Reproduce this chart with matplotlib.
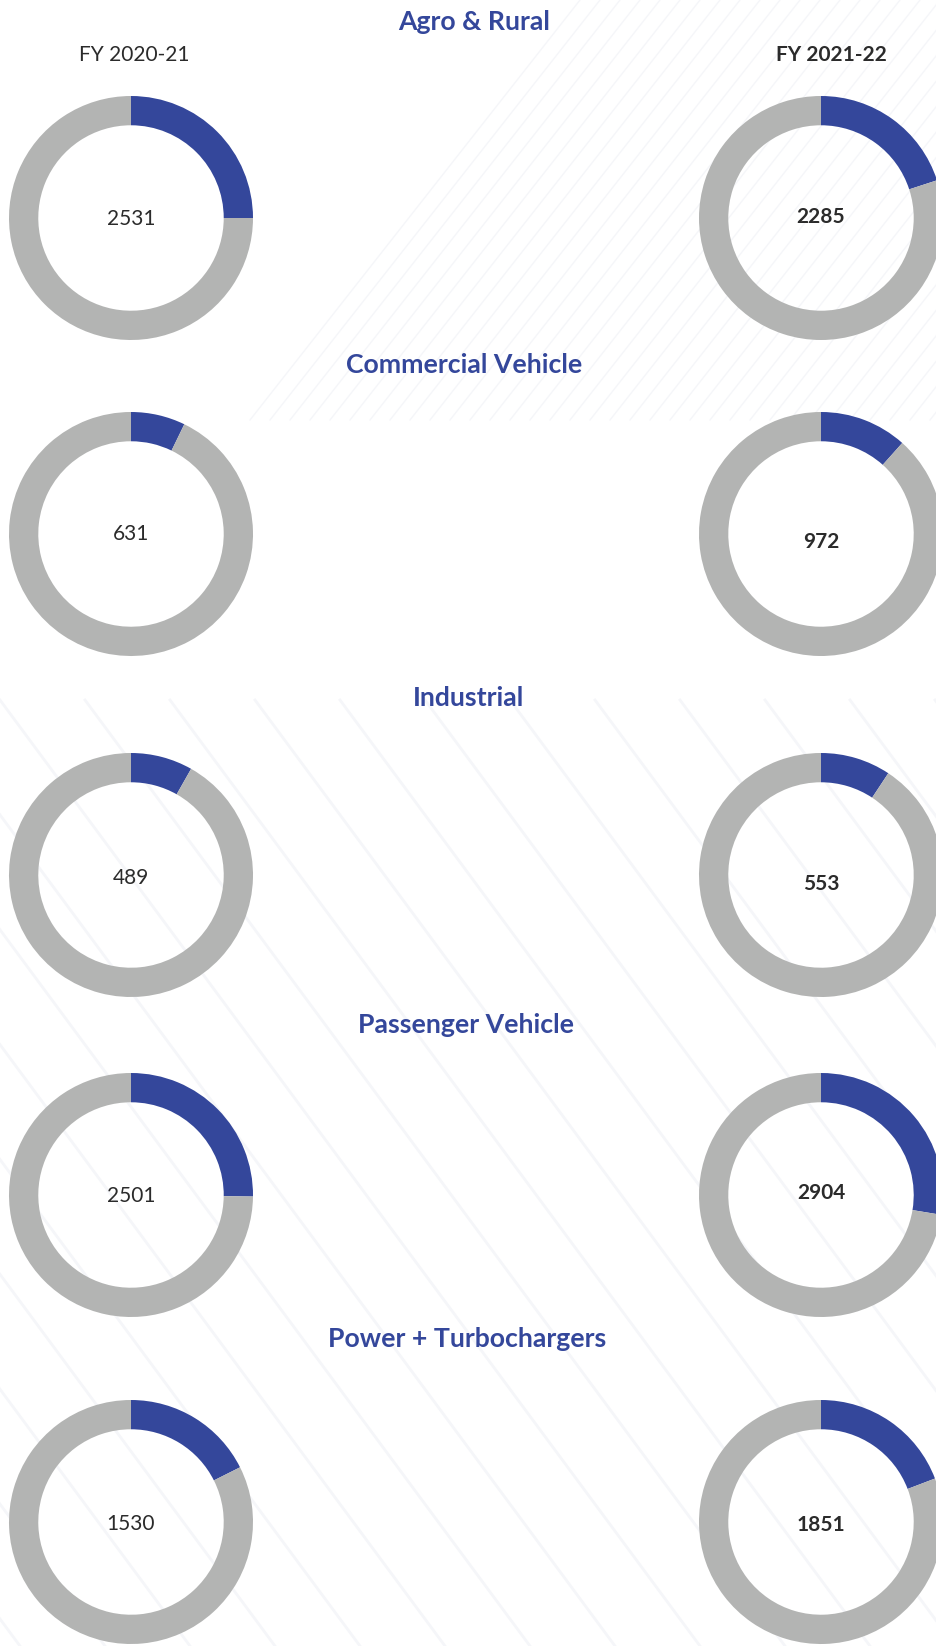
import numpy as np
import matplotlib
matplotlib.use("Agg")
import matplotlib.pyplot as plt

# segments and revenue values (Rs crore)
segments = ["Agro & Rural", "Commercial Vehicle", "Industrial",
            "Passenger Vehicle", "Power + Turbochargers"]
years = ["FY 2020-21", "FY 2021-22"]
values_fy21 = [2531, 631, 489, 2501, 1530]
values_fy22 = [2285, 972, 553, 2904, 1851]
# blue share of each ring (%)
share_fy21 = [25.0, 7.2, 8.2, 25.2, 17.6]
share_fy22 = [20.0, 11.6, 9.3, 27.6, 19.2]

BLUE = "#34479b"
GREY = "#b3b4b3"
TXT = "#2b2b2b"
LINE = "#f5f6f9"

W, H = 937, 1646
fig = plt.figure(figsize=(W / 100, H / 100), dpi=100)
fig.patch.set_facecolor("white")

# faint decorative background lines
bg = fig.add_axes([0, 0, 1, 1])
bg.set_xlim(0, W)
bg.set_ylim(H, 0)
bg.axis("off")
for k in range(0, 40):
    x0 = 250 + k * 20
    bg.plot([x0, x0 + 330], [420, 0], color=LINE, lw=1.0, zorder=0)
for k in range(-20, 20):
    x0 = k * 85
    bg.plot([x0, x0 + 700], [700, 1646], color=LINE, lw=2.0, zorder=0)

left_x, right_x = 131, 821
row_y = [218, 534, 875, 1195, 1522]
title_y = [22, 365, 698, 1025, 1339]
title_x = [474, 464, 469, 466, 467]
r_out = 122
label_dy_left = [1, 0, 3, 1, 2]
label_dy_right = [-1, 8, 9, -2, 3]


def donut(cx, cy, share):
    ax = fig.add_axes([(cx - r_out) / W, 1 - (cy + r_out) / H,
                       2 * r_out / W, 2 * r_out / H])
    ax.pie([share, 100 - share], colors=[BLUE, GREY], startangle=90,
           counterclock=False, radius=1,
           wedgeprops=dict(width=0.24, linewidth=0))
    ax.set_xlim(-1, 1)
    ax.set_ylim(-1, 1)
    ax.set_aspect("equal")
    return ax


for i, seg in enumerate(segments):
    cy = row_y[i]
    donut(left_x, cy, share_fy21[i])
    donut(right_x, cy, share_fy22[i])
    fig.text(title_x[i] / W, 1 - title_y[i] / H, seg, ha="center", va="center",
             fontsize=19.2, fontweight="bold", color=BLUE, family="Lato")
    fig.text(left_x / W, 1 - (cy + label_dy_left[i]) / H, str(values_fy21[i]),
             ha="center", va="center", fontsize=15, color=TXT, family="Lato")
    fig.text(right_x / W, 1 - (cy + label_dy_right[i]) / H, str(values_fy22[i]),
             ha="center", va="center", fontsize=15, fontweight="bold",
             color=TXT, family="Lato")

fig.text(134 / W, 1 - 55 / H, years[0], ha="center", va="center",
         fontsize=15, color=TXT, family="Lato")
fig.text(831 / W, 1 - 55 / H, years[1], ha="center", va="center",
         fontsize=15, fontweight="bold", color=TXT, family="Lato")

fig.savefig("out.png", dpi=100)
